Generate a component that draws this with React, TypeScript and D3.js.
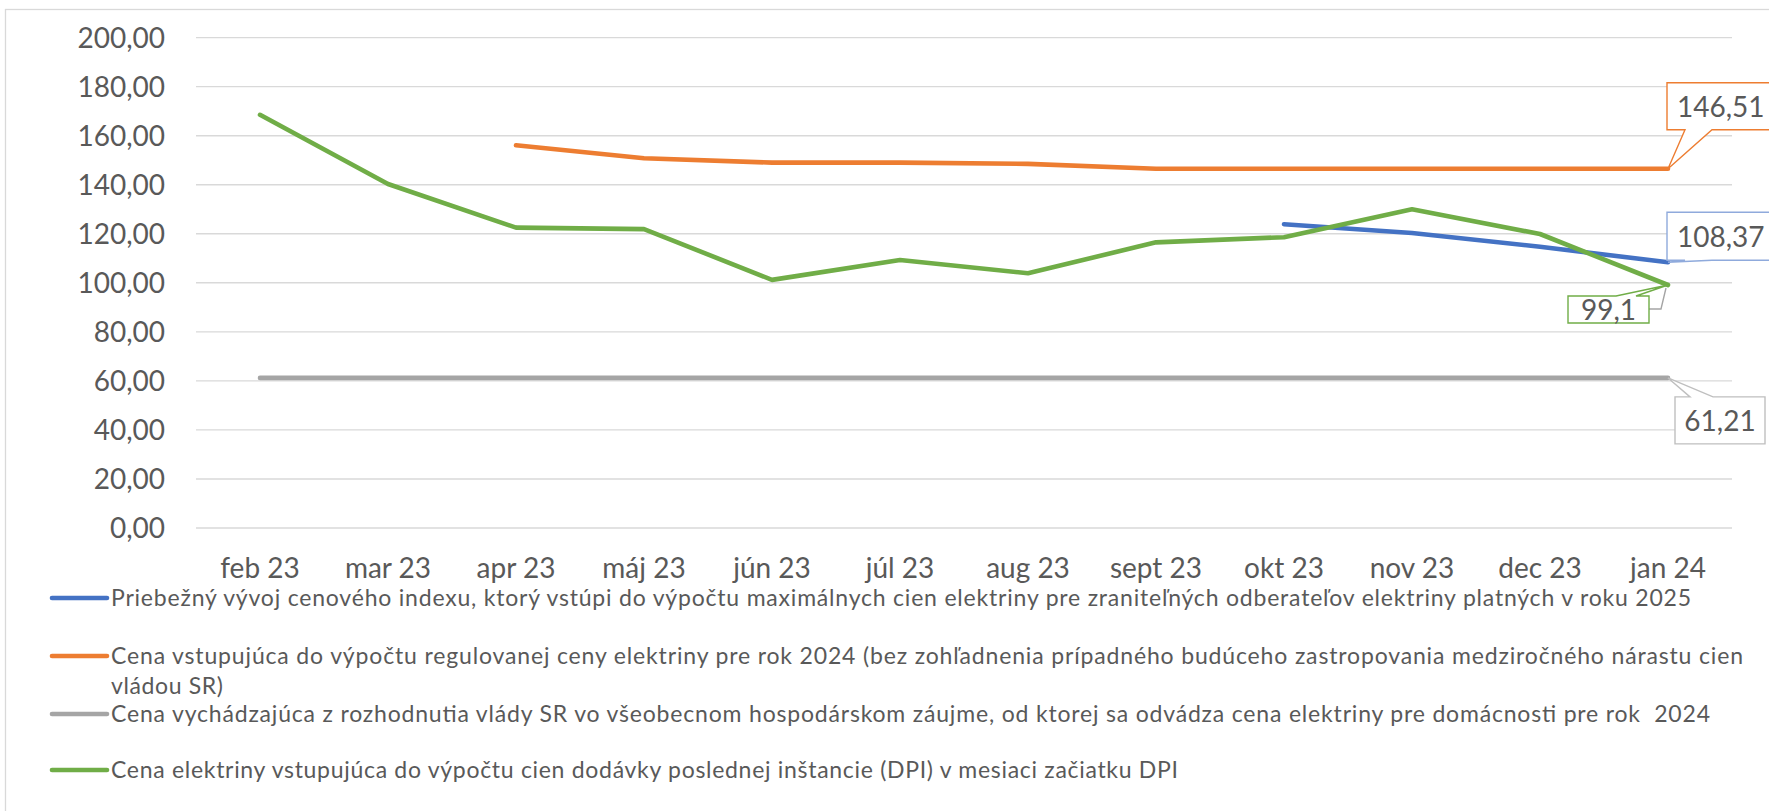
import React from "react";
import * as d3 from "d3";

const categories = ["feb 23", "mar 23", "apr 23", "máj 23", "jún 23", "júl 23", "aug 23", "sept 23", "okt 23", "nov 23", "dec 23", "jan 24"];
const blueValues: (number | null)[] = [null, null, null, null, null, null, null, null, 123.9, 120.3, 114.7, 108.37];
const orangeValues: (number | null)[] = [null, null, 156.1, 150.8, 149.0, 149.0, 148.5, 146.5, 146.51, 146.51, 146.51, 146.51];
const grayValues: (number | null)[] = [61.21, 61.21, 61.21, 61.21, 61.21, 61.21, 61.21, 61.21, 61.21, 61.21, 61.21, 61.21];
const greenValues: (number | null)[] = [168.5, 140.3, 122.5, 121.9, 101.2, 109.3, 103.9, 116.5, 118.6, 130.0, 119.9, 99.1];
const yTicks = [0, 20, 40, 60, 80, 100, 120, 140, 160, 180, 200];
const legendBlue = "Priebežný vývoj cenového indexu, ktorý vstúpi do výpočtu maximálnych cien elektriny pre zraniteľných odberateľov elektriny platných v roku 2025";
const legendOrange1 = "Cena vstupujúca do výpočtu regulovanej ceny elektriny pre rok 2024 (bez zohľadnenia prípadného budúceho zastropovania medziročného nárastu cien";
const legendOrange2 = "vládou SR)";
const legendGray = "Cena vychádzajúca z rozhodnutia vlády SR vo všeobecnom hospodárskom záujme, od ktorej sa odvádza cena elektriny pre domácnosti pre rok  2024";
const legendGreen = "Cena elektriny vstupujúca do výpočtu cien dodávky poslednej inštancie (DPI) v mesiaci začiatku DPI";

const W = 1769;
const H = 811;
const FONT = "Lato, 'Open Sans', sans-serif";
const TXT = "#595959";

const fmt = (v: number) => String(v).replace(".", ",");

export default function App() {
  const x = d3.scaleBand<string>().domain(categories).range([196, 1732]).padding(0);
  const cx = (c: string) => (x(c) as number) + x.bandwidth() / 2;
  const y = d3.scaleLinear().domain([0, 200]).range([528, 37.6]);

  const line = d3
    .line<number | null>()
    .defined((d) => d !== null)
    .x((_, i) => cx(categories[i]))
    .y((d) => y(d as number));

  const series = [
    { vals: blueValues, color: "#4472C4" },
    { vals: orangeValues, color: "#ED7D31" },
    { vals: grayValues, color: "#A5A5A5" },
    { vals: greenValues, color: "#70AD47" },
  ];

  const last = categories.length - 1;
  const px = cx(categories[last]);

  const bottomTail = (x0: number, y0: number, x1: number, y1: number, t1: number, t2: number, tx: number, ty: number) =>
    `M${x0},${y0}H${x1}V${y1}H${t2}L${tx},${ty}L${t1},${y1}H${x0}Z`;
  const topTail = (x0: number, y0: number, x1: number, y1: number, t1: number, t2: number, tx: number, ty: number) =>
    `M${x0},${y0}H${t1}L${tx},${ty}L${t2},${y0}H${x1}V${y1}H${x0}Z`;

  const oy = y(orangeValues[last] as number);
  const by = y(blueValues[last] as number);
  const gy = y(greenValues[last] as number);
  const ry = y(grayValues[last] as number);

  const legendRows = [
    { color: "#4472C4", y: 598, text: legendBlue, len: 1580 },
    { color: "#ED7D31", y: 656, text: legendOrange1, len: 1632 },
    { color: null, y: 686, text: legendOrange2, len: 112 },
    { color: "#A5A5A5", y: 714, text: legendGray, len: 1599 },
    { color: "#70AD47", y: 770, text: legendGreen, len: 1067 },
  ];

  return (
    <svg
      width={W}
      height={H}
      style={{ position: "absolute", left: 0, top: 0, background: "#fff" }}
      fontFamily={FONT}
    >
      <rect x={0} y={0} width={W} height={H} fill="#fff" />
      <rect x={5.5} y={9.5} width={W + 20} height={H + 20} fill="none" stroke="#D9D9D9" strokeWidth={1.3} />

      {yTicks.map((t) => (
        <g key={t}>
          <line x1={196} x2={1732} y1={y(t)} y2={y(t)} stroke="#D9D9D9" strokeWidth={1.4} />
          <text x={165} y={y(t)} dy="0.36em" textAnchor="end" fontSize={28} fill={TXT}>
            {t.toFixed(2).replace(".", ",")}
          </text>
        </g>
      ))}

      {categories.map((c) => (
        <text key={c} x={cx(c)} y={578} textAnchor="middle" fontSize={28} fill={TXT}>
          {c}
        </text>
      ))}

      {series.map((s, i) => (
        <path
          key={i}
          d={line(s.vals) || ""}
          fill="none"
          stroke={s.color}
          strokeWidth={4.6}
          strokeLinejoin="round"
          strokeLinecap="round"
        />
      ))}

      <path d={bottomTail(px - 1, oy - 86, W + 10, oy - 39, px + 17, px + 44, px, oy)} fill="#fff" stroke="#ED7D31" strokeWidth={1.4} />
      <text x={px + 9} y={oy - 62} dy="0.36em" fontSize={28} fill={TXT}>{fmt(orangeValues[last] as number)}</text>

      <path d={bottomTail(px - 1, by - 50, W + 10, by - 2, px + 17, px + 44, px, by)} fill="#fff" stroke="#8FAADC" strokeWidth={1.4} />
      <text x={px + 9} y={by - 25} dy="0.36em" fontSize={28} fill={TXT}>{fmt(blueValues[last] as number)}</text>

      <path d={topTail(px + 7, ry + 19, px + 97, ry + 66, px + 22, px + 45, px, ry)} fill="#fff" stroke="#BFBFBF" strokeWidth={1.4} />
      <text x={px + 52} y={ry + 43} dy="0.36em" textAnchor="middle" fontSize={28} fill={TXT}>{fmt(grayValues[last] as number)}</text>

      <path d={`M${px - 19},${gy + 24}H${px - 7}L${px - 2},${gy + 3}`} fill="none" stroke="#A5A5A5" strokeWidth={1.4} />
      <path d={topTail(px - 100, gy + 11, px - 19, gy + 38, px - 52, px - 32, px, gy)} fill="#fff" stroke="#70AD47" strokeWidth={1.4} />
      <text x={px - 59.5} y={gy + 25} dy="0.36em" textAnchor="middle" fontSize={28} fill={TXT}>{fmt(greenValues[last] as number)}</text>

      {legendRows.map((r, i) => (
        <g key={i}>
          {r.color && (
            <line x1={52} x2={107} y1={r.y} y2={r.y} stroke={r.color} strokeWidth={4.6} strokeLinecap="round" />
          )}
          <text
            x={111}
            y={r.y}
            dy="0.36em"
            fontSize={23}
            fill={TXT}
            textLength={r.len}
            lengthAdjust="spacing"
            style={{ whiteSpace: "pre" }}
          >
            {r.text}
          </text>
        </g>
      ))}
    </svg>
  );
}
